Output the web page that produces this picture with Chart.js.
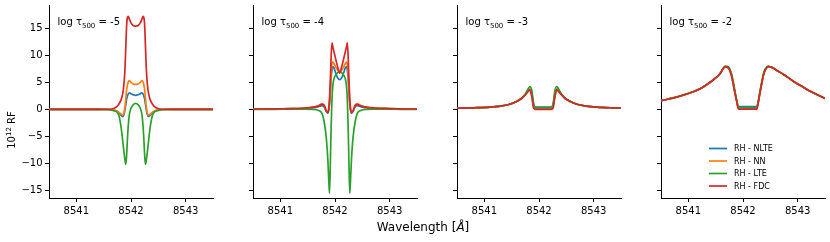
<!DOCTYPE html>
<html><head><meta charset="utf-8">
<script src="https://cdn.jsdelivr.net/npm/chart.js@4/dist/chart.umd.min.js"></script>
<style>
html,body{margin:0;padding:0;background:#fff;}
body{width:830px;height:242px;position:relative;overflow:hidden;font-family:"DejaVu Sans",sans-serif;}
canvas{position:absolute;top:0;}
#xlabel{position:absolute;left:323px;width:200px;top:219px;text-align:center;font-size:12px;line-height:16px;color:#000;white-space:nowrap;}
</style></head><body>
<canvas id="c0"></canvas><canvas id="c1"></canvas><canvas id="c2"></canvas><canvas id="c3"></canvas>
<div id="xlabel">Wavelength [<i>Å</i>]</div>
<script>
// ---------- data ----------
const seriesNames = ['RH - NLTE', 'RH - NN', 'RH - LTE', 'RH - FDC'];
const seriesColors = ['#1f77b4', '#ff7f0e', '#2ca02c', '#d62728'];
const panelTau = ['-5', '-4', '-3', '-2'];
const xTickValues = [8541, 8542, 8543];
const yTickValues = [-15, -10, -5, 0, 5, 10, 15];

// log tau = -5
const wl5 = [8540.5, 8541.0, 8541.4, 8541.6, 8541.68, 8541.74, 8541.78, 8541.82, 8541.85, 8541.87, 8541.89, 8541.905, 8541.92, 8541.935, 8541.95, 8541.97, 8542.0, 8542.04, 8542.085, 8542.13, 8542.17, 8542.2, 8542.22, 8542.235, 8542.25, 8542.265, 8542.28, 8542.30, 8542.32, 8542.35, 8542.39, 8542.43, 8542.49, 8542.57, 8542.8, 8543.2, 8543.5];
const nlte5 = [0, 0, 0, -0.03, -0.12, -0.35, -0.65, -1.1, -1.35, -1.0, -0.1, 0.9, 1.9, 2.45, 2.85, 3.05, 2.9, 2.7, 2.6, 2.7, 2.9, 3.05, 2.85, 2.45, 1.9, 0.9, -0.1, -1.0, -1.35, -1.1, -0.65, -0.35, -0.12, -0.03, 0, 0, 0];
const nn5   = [0, 0, 0, -0.02, -0.1, -0.3, -0.55, -0.9, -1.05, -0.7, 0.5, 2.0, 3.6, 4.5, 5.1, 5.3, 5.0, 4.7, 4.6, 4.7, 5.0, 5.3, 5.1, 4.5, 3.6, 2.0, 0.5, -0.7, -1.05, -0.9, -0.55, -0.3, -0.1, -0.02, 0, 0, 0];
const lte5  = [0, 0, -0.02, -0.08, -0.25, -0.5, -1.2, -3.4, -6.0, -7.8, -9.4, -10.2, -8.5, -5.5, -3.0, -1.0, 0.2, 0.85, 1.1, 0.85, 0.2, -1.0, -3.0, -5.5, -8.5, -10.2, -9.4, -7.8, -6.0, -3.4, -1.2, -0.5, -0.25, -0.08, -0.02, 0, 0];
const fdc5  = [0, 0, 0, 0.02, 0.15, 0.5, 1.0, 1.8, 3.0, 4.6, 7.5, 11.5, 15.5, 17.0, 17.2, 16.7, 16.0, 15.5, 15.4, 15.5, 16.0, 16.7, 17.2, 17.0, 15.5, 11.5, 7.5, 4.6, 3.0, 1.8, 1.0, 0.5, 0.15, 0.02, 0, 0, 0];

// log tau = -4
const wl4 = [8540.5, 8540.9, 8541.2, 8541.45, 8541.6, 8541.7, 8541.76, 8541.8, 8541.84, 8541.87, 8541.89, 8541.9, 8541.915, 8541.93, 8541.945, 8541.96, 8541.98, 8542.01, 8542.05, 8542.085, 8542.12, 8542.16, 8542.19, 8542.21, 8542.225, 8542.24, 8542.255, 8542.27, 8542.28, 8542.3, 8542.33, 8542.37, 8542.41, 8542.47, 8542.57, 8542.72, 8542.97, 8543.2, 8543.5];
const nlte4 = [0.05, 0.08, 0.12, 0.2, 0.3, 0.5, 0.7, 0.5, -0.4, -0.7, 0.1, 1.0, 3.2, 5.8, 7.3, 7.9, 7.7, 6.8, 5.8, 5.5, 5.8, 6.8, 7.7, 7.9, 7.3, 5.8, 3.2, 1.0, 0.1, -0.7, -0.4, 0.5, 0.7, 0.5, 0.3, 0.2, 0.12, 0.08, 0.05];
const nn4   = [0.05, 0.1, 0.15, 0.25, 0.4, 0.7, 1.0, 0.8, -0.25, -0.5, 0.3, 1.5, 4.0, 6.8, 8.3, 8.8, 8.5, 7.9, 7.2, 6.95, 7.2, 7.9, 8.5, 8.8, 8.3, 6.8, 4.0, 1.5, 0.3, -0.5, -0.25, 0.8, 1.0, 0.7, 0.4, 0.25, 0.15, 0.1, 0.05];
const lte4  = [0, 0, 0.03, 0.03, 0, -0.2, -0.7, -2.2, -5.2, -9.5, -14.0, -15.5, -10.0, -3.0, 2.0, 4.3, 5.6, 6.3, 6.8, 6.95, 6.8, 6.3, 5.6, 4.3, 2.0, -3.0, -10.0, -15.5, -14.0, -9.5, -5.2, -2.2, -0.7, -0.2, 0, 0.03, 0.03, 0, 0];
const fdc4  = [0.05, 0.1, 0.15, 0.25, 0.4, 0.65, 0.9, 0.75, -0.3, -0.6, 0.5, 2.0, 5.5, 10.0, 12.3, 11.6, 10.7, 9.4, 7.8, 6.7, 7.8, 9.4, 10.7, 11.6, 12.3, 10.0, 5.5, 2.0, 0.5, -0.6, -0.3, 0.75, 0.9, 0.65, 0.4, 0.25, 0.15, 0.1, 0.05];

// log tau = -3
const wl3 = [8540.5, 8540.8, 8541.1, 8541.3, 8541.45, 8541.58, 8541.68, 8541.75, 8541.8, 8541.835, 8541.87, 8541.9, 8541.925, 8541.95, 8542.08, 8542.21, 8542.235, 8542.26, 8542.29, 8542.325, 8542.36, 8542.41, 8542.48, 8542.58, 8542.71, 8542.86, 8543.06, 8543.36, 8543.5];
const nlte3 = [0.2, 0.28, 0.4, 0.6, 0.9, 1.4, 2.0, 2.75, 3.4, 3.7, 2.8, 0.9, 0.45, 0.4, 0.4, 0.4, 0.45, 0.9, 2.8, 3.7, 3.4, 2.75, 2.0, 1.4, 0.9, 0.6, 0.4, 0.28, 0.25];
const nn3   = [0.2, 0.28, 0.4, 0.6, 0.9, 1.4, 2.0, 2.7, 3.35, 3.65, 2.4, 0.6, 0.22, 0.2, 0.2, 0.2, 0.22, 0.6, 2.4, 3.65, 3.35, 2.7, 2.0, 1.4, 0.9, 0.6, 0.4, 0.28, 0.25];
const lte3  = [0.2, 0.28, 0.4, 0.6, 0.9, 1.4, 2.05, 2.85, 3.75, 4.2, 3.4, 1.2, 0.35, 0.3, 0.3, 0.3, 0.35, 1.2, 3.4, 4.2, 3.75, 2.85, 2.05, 1.4, 0.9, 0.6, 0.4, 0.28, 0.25];
const fdc3  = [0.2, 0.28, 0.4, 0.6, 0.9, 1.4, 2.0, 2.7, 3.3, 3.6, 2.2, 0.3, 0.03, 0.0, 0.0, 0.0, 0.03, 0.3, 2.2, 3.6, 3.3, 2.7, 2.0, 1.4, 0.9, 0.6, 0.4, 0.28, 0.25];

// log tau = -2
const wl2 = [8540.5, 8540.8, 8541.1, 8541.25, 8541.4, 8541.5, 8541.58, 8541.63, 8541.673, 8541.72, 8541.76, 8541.795, 8541.825, 8541.855, 8541.887, 8541.916, 8542.084, 8542.252, 8542.281, 8542.313, 8542.343, 8542.373, 8542.408, 8542.463, 8542.51, 8542.56, 8542.62, 8542.75, 8542.92, 8543.07, 8543.22, 8543.36, 8543.5];
const nlte2 = [1.6, 2.3, 3.3, 4.0, 5.0, 5.8, 6.6, 7.4, 7.9, 7.8, 7.2, 6.0, 4.5, 2.95, 1.5, 0.5, 0.5, 0.5, 1.5, 3.25, 4.8, 6.3, 7.3, 7.9, 7.8, 7.6, 7.2, 6.4, 5.2, 4.3, 3.4, 2.7, 2.0];
const nn2   = [1.6, 2.3, 3.3, 4.0, 5.0, 5.8, 6.6, 7.4, 7.9, 7.8, 7.2, 6.0, 4.5, 2.9, 1.4, 0.25, 0.25, 0.25, 1.4, 3.2, 4.8, 6.3, 7.3, 7.9, 7.8, 7.6, 7.2, 6.4, 5.2, 4.3, 3.4, 2.7, 2.0];
const lte2  = [1.6, 2.3, 3.3, 4.0, 5.0, 5.8, 6.6, 7.45, 7.95, 7.95, 7.45, 6.4, 5.0, 3.3, 1.6, 0.3, 0.3, 0.3, 1.6, 3.5, 5.1, 6.6, 7.5, 8.0, 7.85, 7.6, 7.2, 6.4, 5.2, 4.3, 3.4, 2.7, 2.0];
const fdc2  = [1.6, 2.3, 3.3, 4.0, 5.0, 5.8, 6.6, 7.4, 7.9, 7.8, 7.2, 6.0, 4.5, 2.9, 1.3, 0.05, 0.05, 0.05, 1.3, 3.2, 4.8, 6.3, 7.3, 7.9, 7.8, 7.6, 7.2, 6.4, 5.2, 4.3, 3.4, 2.7, 2.0];

const panelData = [
  {wl: wl5, series: [nlte5, nn5, lte5, fdc5]},
  {wl: wl4, series: [nlte4, nn4, lte4, fdc4]},
  {wl: wl3, series: [nlte3, nn3, lte3, fdc3]},
  {wl: wl2, series: [nlte2, nn2, lte2, fdc2]}
];

// ---------- layout ----------
const PANEL_LEFT = [49, 253, 457, 661];
const PANEL_W = 164;
const AREA_TOP = 5, AREA_BOTTOM = 198, H = 242;
const FONT = '"DejaVu Sans", sans-serif';

function fmtMinus(v) { return String(v).replace('-', '\u2212'); }

function makePanel(i) {
  const yw = i === 0 ? 49 : 12;
  const rightPad = 5;
  const cv = document.getElementById('c' + i);
  cv.width = yw + PANEL_W + rightPad;
  cv.height = H;
  cv.style.left = (PANEL_LEFT[i] - yw) + 'px';
  const pd = panelData[i];
  const datasets = pd.series.map((vals, k) => ({
    label: seriesNames[k],
    data: pd.wl.map((x, j) => ({x: x, y: vals[j]})),
    borderColor: seriesColors[k],
    backgroundColor: seriesColors[k],
    borderWidth: 1.7,
    pointRadius: 0,
    fill: false,
    cubicInterpolationMode: 'monotone',
    order: 4 - k
  }));

  const textPlugin = {
    id: 'txt' + i,
    afterDraw(chart) {
      const ctx = chart.ctx, ca = chart.chartArea;
      ctx.save();
      ctx.fillStyle = '#000';
      ctx.textBaseline = 'alphabetic';
      ctx.textAlign = 'left';
      let x = ca.left + 8.5, y = 25;
      ctx.font = '10px ' + FONT;
      ctx.fillText('log \u03c4', x, y); x += ctx.measureText('log \u03c4').width;
      ctx.font = '7px ' + FONT;
      ctx.fillText('500', x, y + 2.5); x += ctx.measureText('500').width;
      ctx.font = '10px ' + FONT;
      ctx.fillText(' = ' + panelTau[i], x, y);
      if (i === 0) {
        ctx.save();
        ctx.translate(15, 130);
        ctx.rotate(-Math.PI / 2);
        ctx.font = '10px ' + FONT;
        const w1 = ctx.measureText('10').width;
        ctx.font = '7px ' + FONT;
        const w2 = ctx.measureText('12').width;
        ctx.font = '10px ' + FONT;
        const w3 = ctx.measureText(' RF').width;
        let sx = -(w1 + w2 + w3) / 2;
        ctx.font = '10px ' + FONT;
        ctx.fillText('10', sx, 0); sx += w1;
        ctx.font = '7px ' + FONT;
        ctx.fillText('12', sx, -4); sx += w2;
        ctx.font = '10px ' + FONT;
        ctx.fillText(' RF', sx, 0);
        ctx.restore();
      }
      if (i === 3) {
        const lx = 709 - (PANEL_LEFT[3] - yw);
        const rows = [148.5, 161, 173.5, 186];
        ctx.font = '8px ' + FONT;
        ctx.textBaseline = 'middle';
        for (let k = 0; k < 4; k++) {
          ctx.strokeStyle = seriesColors[k];
          ctx.lineWidth = 1.7;
          ctx.beginPath();
          ctx.moveTo(lx, rows[k]); ctx.lineTo(lx + 18, rows[k]);
          ctx.stroke();
          ctx.fillText(seriesNames[k], lx + 25, rows[k] + 0.5);
        }
      }
      ctx.restore();
    }
  };

  return new Chart(cv, {
    type: 'line',
    data: {datasets: datasets},
    options: {
      responsive: false,
      animation: false,
      events: [],
      layout: {padding: {top: AREA_TOP, right: rightPad, bottom: 0, left: 0}},
      plugins: {legend: {display: false}, tooltip: {enabled: false}, title: {display: false}},
      scales: {
        x: {
          type: 'linear', min: 8540.5, max: 8543.5,
          afterBuildTicks: s => { s.ticks = xTickValues.map(v => ({value: v})); },
          afterFit: s => { s.height = H - AREA_BOTTOM; s.paddingLeft = 0; s.paddingRight = 0; },
          ticks: {color: '#000', font: {family: FONT, size: 10}, padding: 3, maxRotation: 0, autoSkip: false, callback: v => String(v)},
          grid: {display: true, drawOnChartArea: false, drawTicks: true, tickLength: 4, color: '#000', lineWidth: 1},
          border: {display: true, color: '#000', width: 1}
        },
        y: {
          type: 'linear', min: -16.4, max: 19.3,
          afterBuildTicks: s => { s.ticks = yTickValues.map(v => ({value: v})); },
          afterFit: s => { s.width = yw; s.paddingTop = 0; s.paddingBottom = 0; },
          ticks: {color: '#000', font: {family: FONT, size: 10}, padding: 2.5, autoSkip: false, callback: v => (i === 0 ? fmtMinus(v) : '')},
          grid: {display: true, drawOnChartArea: false, drawTicks: true, tickLength: 4, color: '#000', lineWidth: 1},
          border: {display: true, color: '#000', width: 1}
        }
      }
    },
    plugins: [textPlugin]
  });
}
for (let i = 0; i < 4; i++) makePanel(i);
</script>
</body></html>
